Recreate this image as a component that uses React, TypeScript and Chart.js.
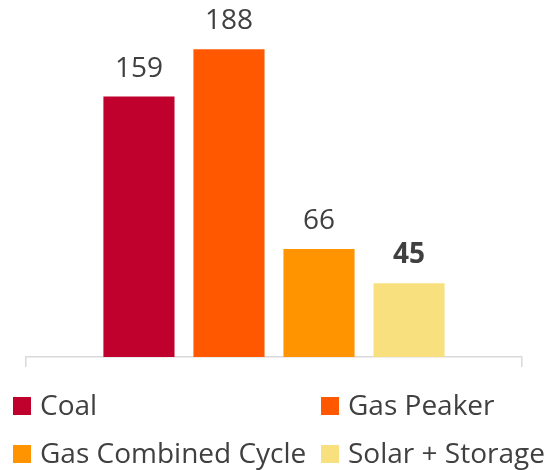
import React, { useEffect, useRef } from "react";
import { Chart, registerables } from "chart.js";

Chart.register(...registerables);

const categories = ["Coal", "Gas Peaker", "Gas Combined Cycle", "Solar + Storage"];
const values = [159, 188, 66, 45];
const colors = ["#C0002D", "#FF5800", "#FF9300", "#F8E07F"];
const boldLabel = [false, false, false, true];

const FONT = "'Open Sans', 'Noto Sans', sans-serif";
const TEXT_COLOR = "#404040";

const valueLabelsPlugin = {
  id: "valueLabels",
  afterDatasetsDraw(chart: any) {
    const ctx = chart.ctx;
    ctx.save();
    ctx.fillStyle = TEXT_COLOR;
    ctx.textAlign = "center";
    ctx.textBaseline = "alphabetic";
    chart.data.datasets.forEach((ds: any, i: number) => {
      const meta = chart.getDatasetMeta(i);
      meta.data.forEach((el: any, j: number) => {
        ctx.font = `${boldLabel[i] ? "bold " : ""}28px ${FONT}`;
        ctx.fillText(String(ds.data[j]), el.x, el.y - 20);
      });
    });
    ctx.restore();
  },
};

const gridLegendPlugin = {
  id: "gridLegend",
  afterDraw(chart: any) {
    const ctx = chart.ctx;
    const colX = [13, 321];
    const rowY = [406, 454];
    const box = 18;
    ctx.save();
    ctx.font = `28px ${FONT}`;
    ctx.textAlign = "left";
    ctx.textBaseline = "alphabetic";
    chart.data.datasets.forEach((ds: any, i: number) => {
      const x = colX[i % 2];
      const cy = rowY[Math.floor(i / 2)];
      ctx.fillStyle = ds.backgroundColor;
      ctx.fillRect(x, cy - box / 2, box, box);
      ctx.fillStyle = TEXT_COLOR;
      ctx.fillText(ds.label, x + 27, cy + 9);
    });
    ctx.restore();
  },
};

export default function App() {
  const canvasRef = useRef<HTMLCanvasElement | null>(null);

  useEffect(() => {
    document.body.style.margin = "0";
    const canvas = canvasRef.current;
    if (!canvas) return;
    const chart = new Chart(canvas, {
      type: "bar",
      data: {
        labels: [""],
        datasets: categories.map((c, i) => ({
          label: c,
          data: [values[i]],
          backgroundColor: colors[i],
          borderWidth: 0,
          categoryPercentage: 0.726,
          barPercentage: 0.79,
        })),
      },
      options: {
        responsive: false,
        animation: false,
        devicePixelRatio: 1,
        layout: { padding: { left: 26, right: 22, top: 0, bottom: 103 } },
        scales: {
          y: { display: false, min: 0, max: 218 },
          x: {
            grid: {
              drawOnChartArea: false,
              drawTicks: true,
              tickLength: 10,
              color: "#D9D9D9",
              lineWidth: 1.5,
              offset: true,
            },
            border: { color: "#D9D9D9", width: 1.5 },
            ticks: { display: false },
          },
        },
        plugins: {
          legend: { display: false },
          tooltip: { enabled: false },
        },
      },
      plugins: [valueLabelsPlugin, gridLegendPlugin],
    } as any);
    return () => chart.destroy();
  }, []);

  return (
    <div style={{ width: 544, height: 470 }}>
      <canvas ref={canvasRef} width={544} height={470} />
    </div>
  );
}
